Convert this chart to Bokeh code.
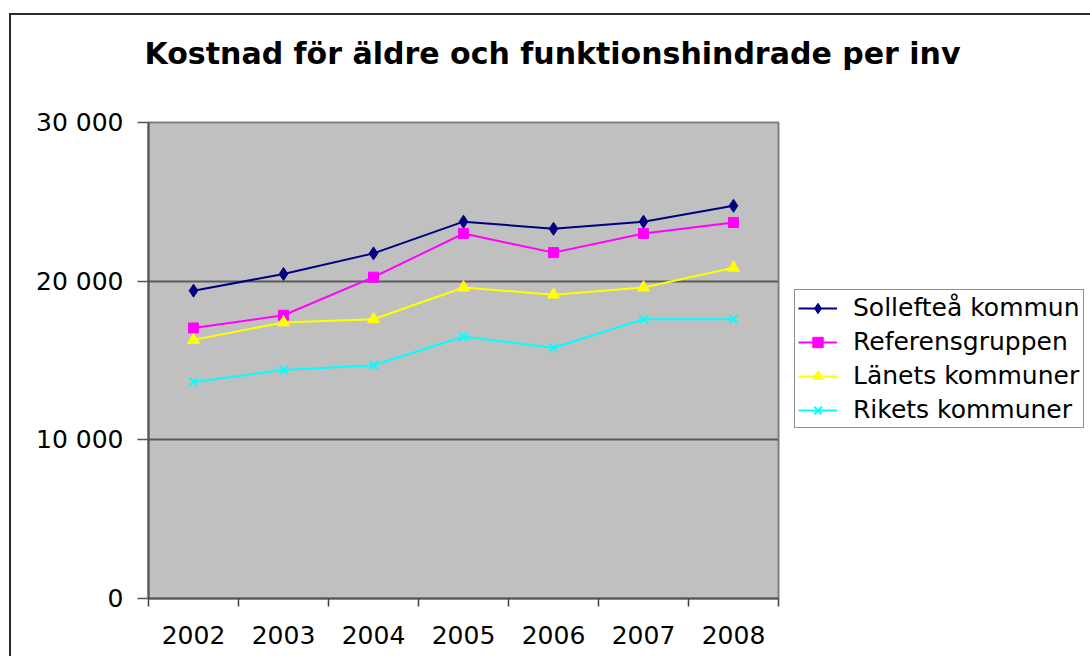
from bokeh.plotting import figure
from bokeh.models import FixedTicker, Legend, LegendItem, Range1d, Title
from bokeh.embed import file_html
from bokeh.resources import INLINE

# ---- data ----
years = ["2002", "2003", "2004", "2005", "2006", "2007", "2008"]
solleftea = [19400, 20450, 21750, 23750, 23300, 23750, 24750]
referens = [17050, 17850, 20250, 23000, 21800, 23000, 23700]
lanets = [16300, 17400, 17600, 19600, 19150, 19600, 20850]
rikets = [13650, 14400, 14700, 16500, 15800, 17600, 17600]
series_names = ["Sollefteå kommun", "Referensgruppen", "Länets kommuner", "Rikets kommuner"]
y_ticks = [0, 10000, 20000, 30000]
y_tick_labels = ["0", "10 000", "20 000", "30 000"]
title_text = "Kostnad för äldre och funktionshindrade per inv"

FONT = "DejaVu Sans"

x = [i + 0.5 for i in range(len(years))]

p = figure(
    title=None,
    frame_width=630, frame_height=476,
    min_border_left=137, min_border_right=308,
    min_border_top=107, min_border_bottom=58,
    x_range=Range1d(0, len(years)), y_range=Range1d(0, 30000),
    output_backend="svg", toolbar_location=None,
    background_fill_color="#C0C0C0", border_fill_color="white",
)
p.styles = {"margin-left": "9px", "margin-top": "13px",
            "border-left": "2px solid #2a2a2a", "border-top": "2px solid #2a2a2a"}

p.outline_line_color = "#808080"
p.outline_line_width = 2

# spacer between frame and title, then the title itself
p.add_layout(Title(text=" ", text_font_size="1px", standoff=49), "above")
p.add_layout(Title(text=title_text, text_font=FONT, text_font_style="bold",
                   text_font_size="30px", text_color="black",
                   align="left", offset=-4, standoff=0), "above")

# axes
xa = p.xaxis[0]
xa.ticker = FixedTicker(ticks=x, minor_ticks=list(range(len(years) + 1)))
xa.major_label_overrides = {xv: yr for xv, yr in zip(x, years)}
xa.major_tick_out = 0
xa.major_tick_in = 0
xa.minor_tick_out = 8
xa.minor_tick_in = 0
xa.minor_tick_line_color = "#404040"
xa.minor_tick_line_width = 1.5
xa.axis_line_color = "#555555"
xa.axis_line_width = 2
xa.major_label_text_font = FONT
xa.major_label_text_font_size = "25px"
xa.major_label_text_color = "black"
xa.major_label_standoff = 19

ya = p.yaxis[0]
ya.ticker = FixedTicker(ticks=y_ticks)
ya.major_label_overrides = {t: l for t, l in zip(y_ticks, y_tick_labels)}
ya.minor_tick_line_color = None
ya.major_tick_out = 11
ya.major_tick_in = 0
ya.major_tick_line_color = "#555555"
ya.major_tick_line_width = 1.5
ya.axis_line_color = "#555555"
ya.axis_line_width = 2
ya.major_label_text_font = FONT
ya.major_label_text_font_size = "25px"
ya.major_label_text_color = "black"
ya.major_label_standoff = 14

p.xgrid.visible = False
p.ygrid.ticker = FixedTicker(ticks=y_ticks)
p.ygrid.grid_line_color = "#5a5a5a"
p.ygrid.grid_line_width = 2

# series
styles = [
    ("#000080", "diamond", 13),
    ("#FF00FF", "square", 10),
    ("#FFFF00", "triangle", 12),
    ("#00FFFF", "x", 12),
]
data = [solleftea, referens, lanets, rikets]
items = []
for name, vals, (col, mk, sz) in zip(series_names, data, styles):
    ln = p.line(x, vals, line_color=col, line_width=2)
    sc = p.scatter(x, vals, marker=mk, size=sz, fill_color=col, line_color=col,
                   line_width=2 if mk == "x" else 1)
    items.append(LegendItem(label=name, renderers=[ln, sc]))

legend = Legend(
    items=items, location=(16, 170),
    border_line_color="#222222", border_line_width=1.5,
    background_fill_color="white", background_fill_alpha=1,
    label_text_font=FONT, label_text_font_size="25px", label_text_color="black",
    glyph_width=39, glyph_height=26, label_height=26, label_standoff=16,
    spacing=5, padding=3, margin=0,
)
p.add_layout(legend, "right")

open("out.html", "w").write(file_html(p, INLINE))
